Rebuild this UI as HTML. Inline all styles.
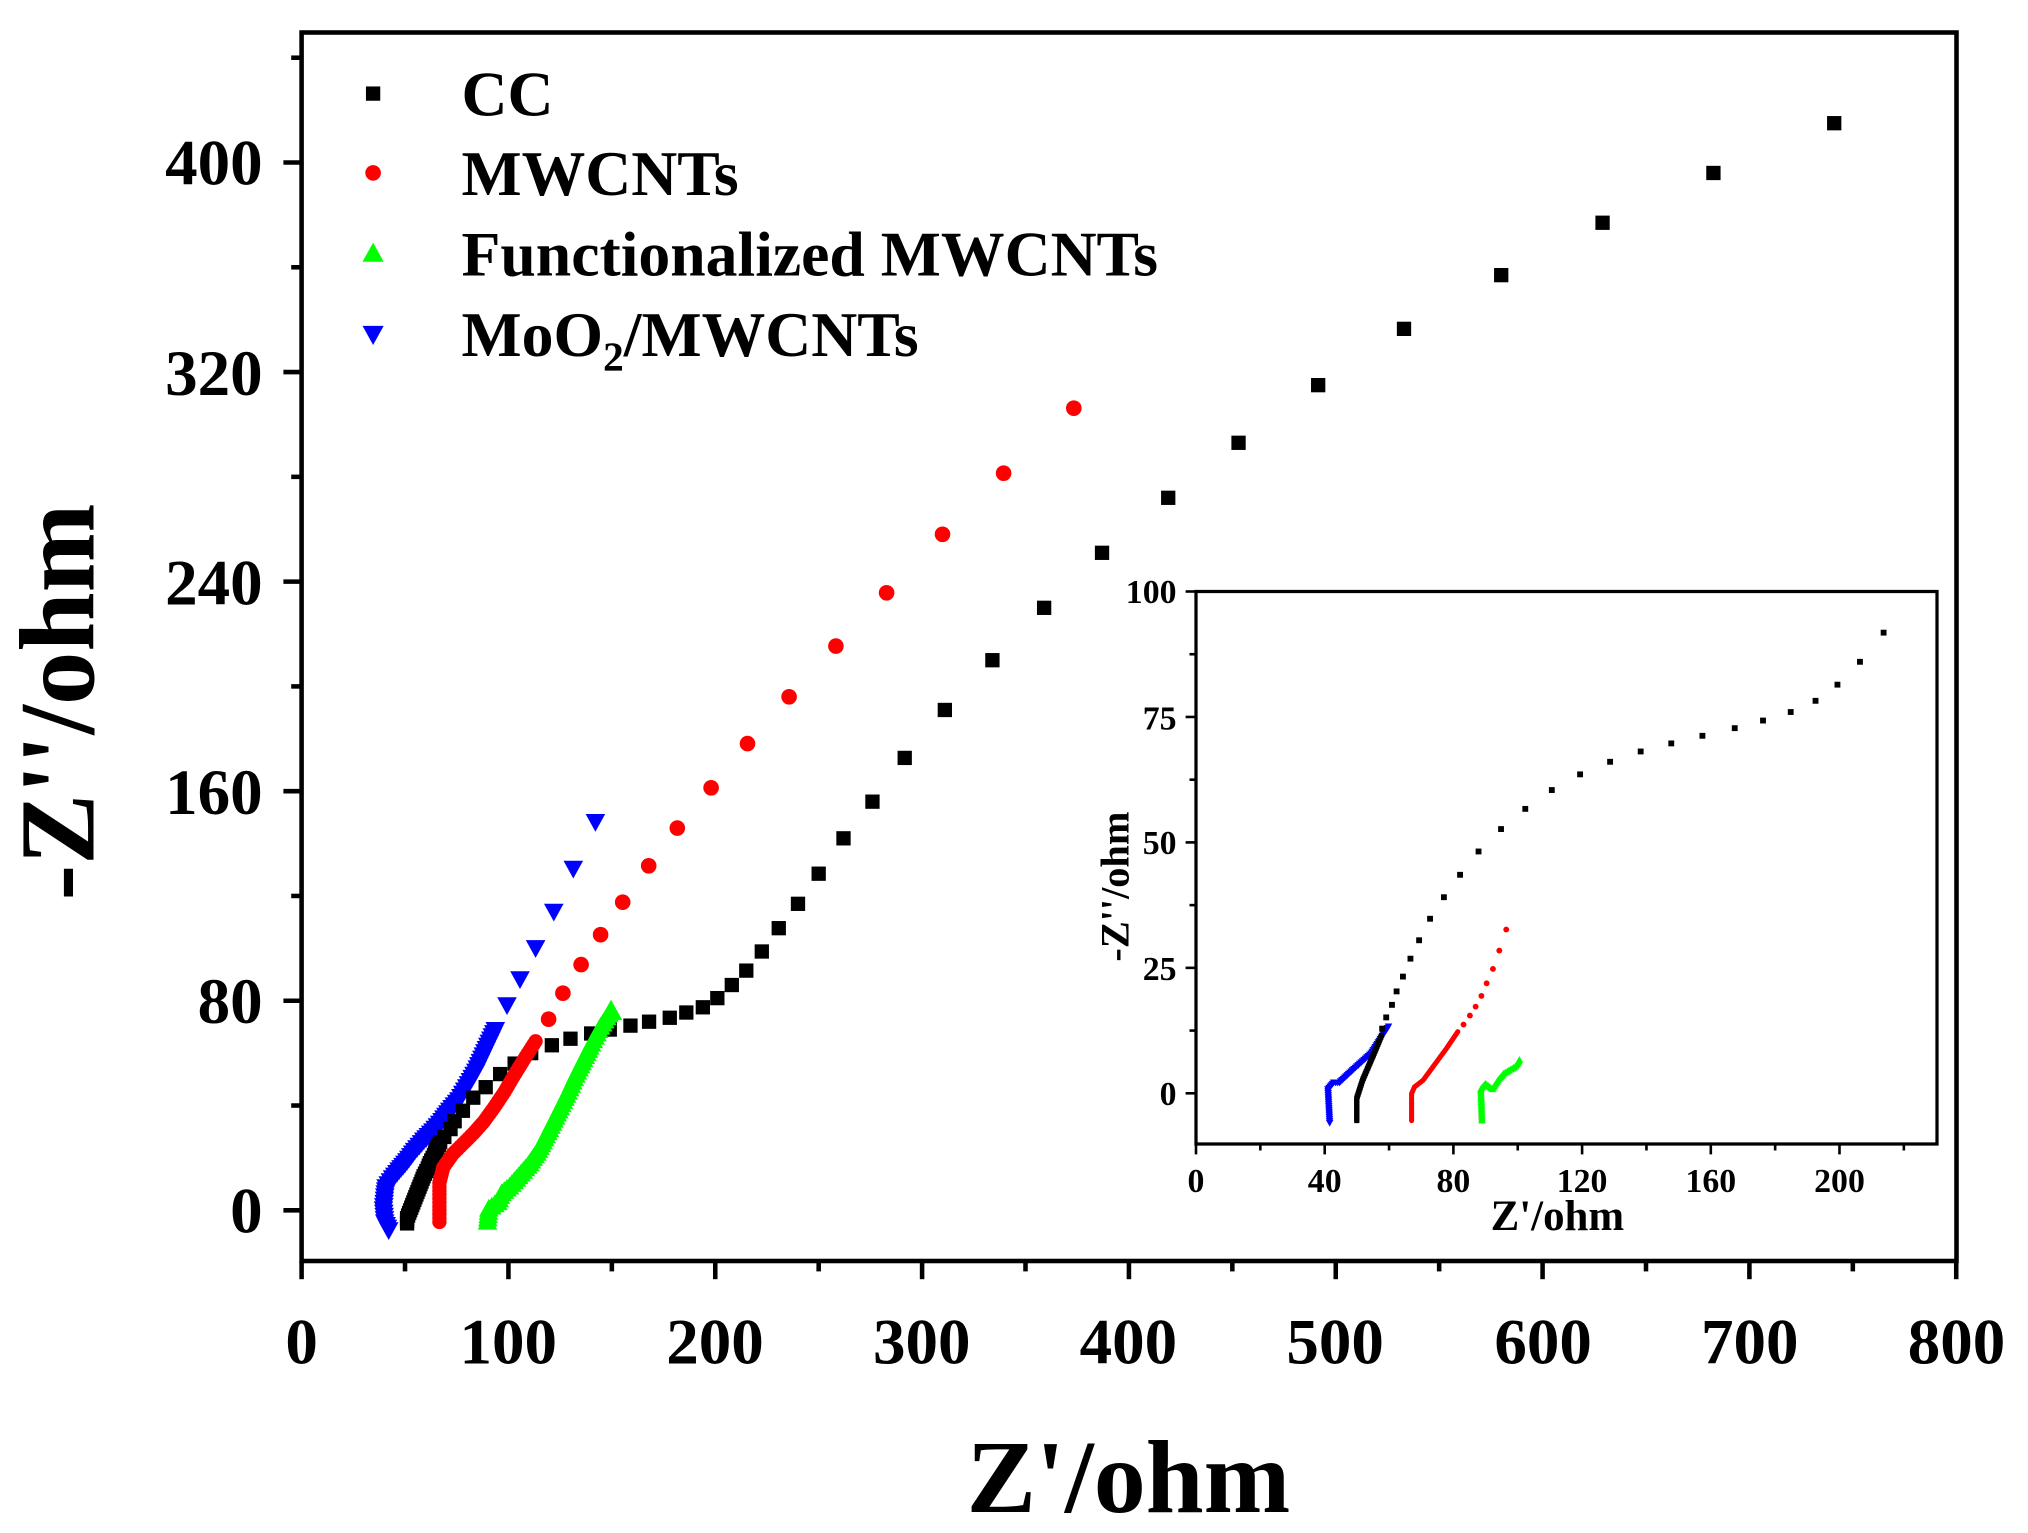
<!DOCTYPE html>
<html><head><meta charset="utf-8"><style>
html,body{margin:0;padding:0;background:#fff}
svg{display:block}
text{font-family:"Liberation Serif",serif;font-weight:bold;fill:#000}
</style></head><body>
<svg id="s" width="2028" height="1533" viewBox="0 0 1560 1179.23" xmlns="http://www.w3.org/2000/svg">
<rect x="0" y="0" width="1560" height="1180" fill="#fff"/>
<g id="g"></g>
<rect x="232" y="25" width="1273" height="945" fill="none" stroke="#000" stroke-width="3.5"/>
<g font-size="50" text-anchor="middle">
<text x="232" y="1049">0</text><text x="391" y="1049">100</text><text x="550" y="1049">200</text><text x="709" y="1049">300</text><text x="868" y="1049">400</text><text x="1027" y="1049">500</text><text x="1187" y="1049">600</text><text x="1346" y="1049">700</text><text x="1505" y="1049">800</text>
</g>
<g font-size="50" text-anchor="end">
<text x="202" y="948">0</text><text x="202" y="787">80</text><text x="202" y="626">160</text><text x="202" y="465">240</text><text x="202" y="304">320</text><text x="202" y="142">400</text>
</g>
<text x="868" y="1163" font-size="80" text-anchor="middle">Z'/ohm</text>
<text transform="translate(72,540) rotate(-90)" font-size="82" text-anchor="middle">-Z''/ohm</text>
<g font-size="49">
<text x="355" y="89">CC</text>
<text x="355" y="150">MWCNTs</text>
<text x="355" y="212">Functionalized MWCNTs</text>
<text x="355" y="274">MoO<tspan font-size="32" dy="11">2</tspan><tspan dy="-11">/MWCNTs</tspan></text>
</g>
<rect x="920" y="455" width="570" height="425" fill="none" stroke="#000" stroke-width="2.5"/>
<g font-size="26" text-anchor="middle">
<text x="920" y="917">0</text><text x="1019" y="917">40</text><text x="1118" y="917">80</text><text x="1217" y="917">120</text><text x="1316" y="917">160</text><text x="1415" y="917">200</text>
</g>
<g font-size="26" text-anchor="end">
<text x="905" y="850">0</text><text x="905" y="754">25</text><text x="905" y="657">50</text><text x="905" y="561">75</text><text x="905" y="464">100</text>
</g>
<text x="1198" y="946" font-size="33" text-anchor="middle">Z'/ohm</text>
<text transform="translate(868,682) rotate(-90)" font-size="31" text-anchor="middle">-Z''/ohm</text>
</svg>
<script>
var NS="http://www.w3.org/2000/svg",g=document.getElementById('g');
function el(t,a){var e=document.createElementNS(NS,t);for(var k in a)e.setAttribute(k,a[k]);g.appendChild(e);return e;}
for(var v=0;v<=800;v+=50){var x=232+v*1.591;el('line',{x1:x,y1:970,x2:x,y2:v%100?978:984,stroke:'#000','stroke-width':3.5});}
for(var v=0;v<=440;v+=40){var y=931-v*2.015;el('line',{x1:232,y1:y,x2:v%80?224:218,y2:y,stroke:'#000','stroke-width':3.5});}
for(var v=0;v<=220;v+=20){var x=920+v*2.475;el('line',{x1:x,y1:880,x2:x,y2:v%40?885:888,stroke:'#000','stroke-width':2});}
for(var v=0;v<=100;v+=12.5){var y=841-v*3.86;el('line',{x1:920,y1:y,x2:v%25?915:912,y2:y,stroke:'#000','stroke-width':2});}
function dense(pts,step){var o=[];for(var i=0;i<pts.length-1;i++){var a=pts[i],b=pts[i+1],d=Math.hypot(b[0]-a[0],b[1]-a[1]),n=Math.max(1,Math.ceil(d/step));for(var j=0;j<n;j++)o.push([a[0]+(b[0]-a[0])*j/n,a[1]+(b[1]-a[1])*j/n]);}o.push(pts[pts.length-1]);return o;}
function mk(type,c,x,y,s){
 if(type=='sq')el('rect',{x:x-s/2,y:y-s/2,width:s,height:s,fill:c});
 else if(type=='ci')el('circle',{cx:x,cy:y,r:s/2,fill:c});
 else if(type=='up')el('polygon',{points:(x)+','+(y-s*0.6)+' '+(x-s*0.58)+','+(y+s*0.45)+' '+(x+s*0.58)+','+(y+s*0.45),fill:c});
 else el('polygon',{points:(x)+','+(y+s*0.6)+' '+(x-s*0.58)+','+(y-s*0.45)+' '+(x+s*0.58)+','+(y-s*0.45),fill:c});
}
mk('sq','#000',287,72,11);mk('ci','#ff0000',287,133,12);mk('up','#00ff00',287,195,14);mk('dn','#0000ff',287,257,14);
var ccLow=[[51,-5],[51,-3],[52,-1],[53,1],[54,3],[55,5],[56,7],[57,9],[58,11],[59,13],[61,16],[62,18],[64,21],[65,23],[67,26]];
var ccMid=[[69,28],[72,31],[74,34],[78,38],[83,43],[89,47],[96,52],[103,56],[111,60],[121,63],[130,65.5],[140,67.5],[149,69],[159,70.5],[168,72],[178,73.5],[186,75.5],[194,77.5],[201,81],[208,86],[215,91.5]];
var ccHi=[[222.5,98.8],[230.7,107.7],[240,117],[250,128.5],[262,142],[276,156],[291.6,172.7],[311,191],[334,210],[359,230],[387,251],[419,272],[453,293],[491.5,315],[533,336.5],[580,357],[629,377],[682.6,396],[741,415]];
function M(p){return [232+p[0]*1.591,931-p[1]*2.015];}
function Z(p){return [(1100+p[0]/1.733)/1.3,(560+p[1]/2.23)/1.3];}
var blue=[[299,946],[296,940],[295,930],[296,920],[297,913],[302,906],[307,900],[313,893],[319,885],[326,877],[333,870],[340,862],[346,854],[353,846],[359,836],[366,824],[373,809],[381,792]];
dense(blue,3).forEach(function(p){mk('dn','#0000ff',p[0],p[1],13);});
[[390,773],[400,753],[412,729],[426,701],[441,668],[458,632]].forEach(function(p){mk('dn','#0000ff',p[0],p[1],13);});
dense(ccLow.map(M),3).forEach(function(p){mk('sq','#000',p[0],p[1],11);});
ccMid.concat(ccHi).forEach(function(v){var p=M(v);mk('sq','#000',p[0],p[1],11);});
var red=[[338,940],[338,925],[338,910],[341,898],[348,888],[356,880],[364,872],[372,863],[380,852],[388,840],[395,828],[403,815],[412,801]];
dense(red,3).forEach(function(p){mk('ci','#ff0000',p[0],p[1],11);});
[[422,784],[433,764],[447,742],[462,719],[479,694],[499,666],[521,637],[547,606],[575,572],[607,536],[643,497],[682,456],[725,411],[772,364],[826,314]].forEach(function(p){mk('ci','#ff0000',p[0],p[1],12);});
var green=[[375,940],[376,930],[383,925],[386,918],[392,913],[399,905],[406,897],[413,887],[419,876],[425,864],[431,852],[437,840],[443,827],[449,815],[455,803],[462,790],[470,778]];
dense(green,3).forEach(function(p){mk('up','#00ff00',p[0],p[1],13);});
mk('up','#00ff00',470,778,15);
// inset
dense([[398,1255],[395,1180],[405,1165],[415,1165],[440,1135],[470,1100],[500,1040]].map(Z),1.5).forEach(function(p){mk('dn','#0000ff',p[0],p[1],5);});
dense([[445,1250],[445,1200],[455,1160],[475,1100],[488,1060]].map(Z),1.5).forEach(function(p){mk('sq','#000',p[0],p[1],4);});
[[1358,162],[1317,227],[1278,278],[1240,314],[1197,339],[1149,358],[1100,375],[1044,392],[990,409],[937,427],[884,450],[832,478],[783,513],[737,555],[695,600],[656,650],[624,702],[596,752],[572,800],[553,848],[538,889],[525,929],[514,962],[506,992],[496,1020],[489,1045]].forEach(function(v){var p=Z(v);mk('sq','#000',p[0],p[1],4.5);});
dense([[540,1250],[540,1190],[545,1175],[560,1160],[600,1090],[620,1052]].map(Z),1.5).forEach(function(p){mk('ci','#ff0000',p[0],p[1],4);});
[[704,824],[692,871],[681,912],[670,944],[661,972],[651,996],[641,1016],[630,1036]].forEach(function(v){var p=Z(v);mk('ci','#ff0000',p[0],p[1],4.5);});
dense([[662,1250],[660,1180],[668,1168],[680,1180],[690,1160],[700,1145],[720,1130],[727,1115]].map(Z),1.5).forEach(function(p){mk('up','#00ff00',p[0],p[1],5);});
</script>
</body></html>
